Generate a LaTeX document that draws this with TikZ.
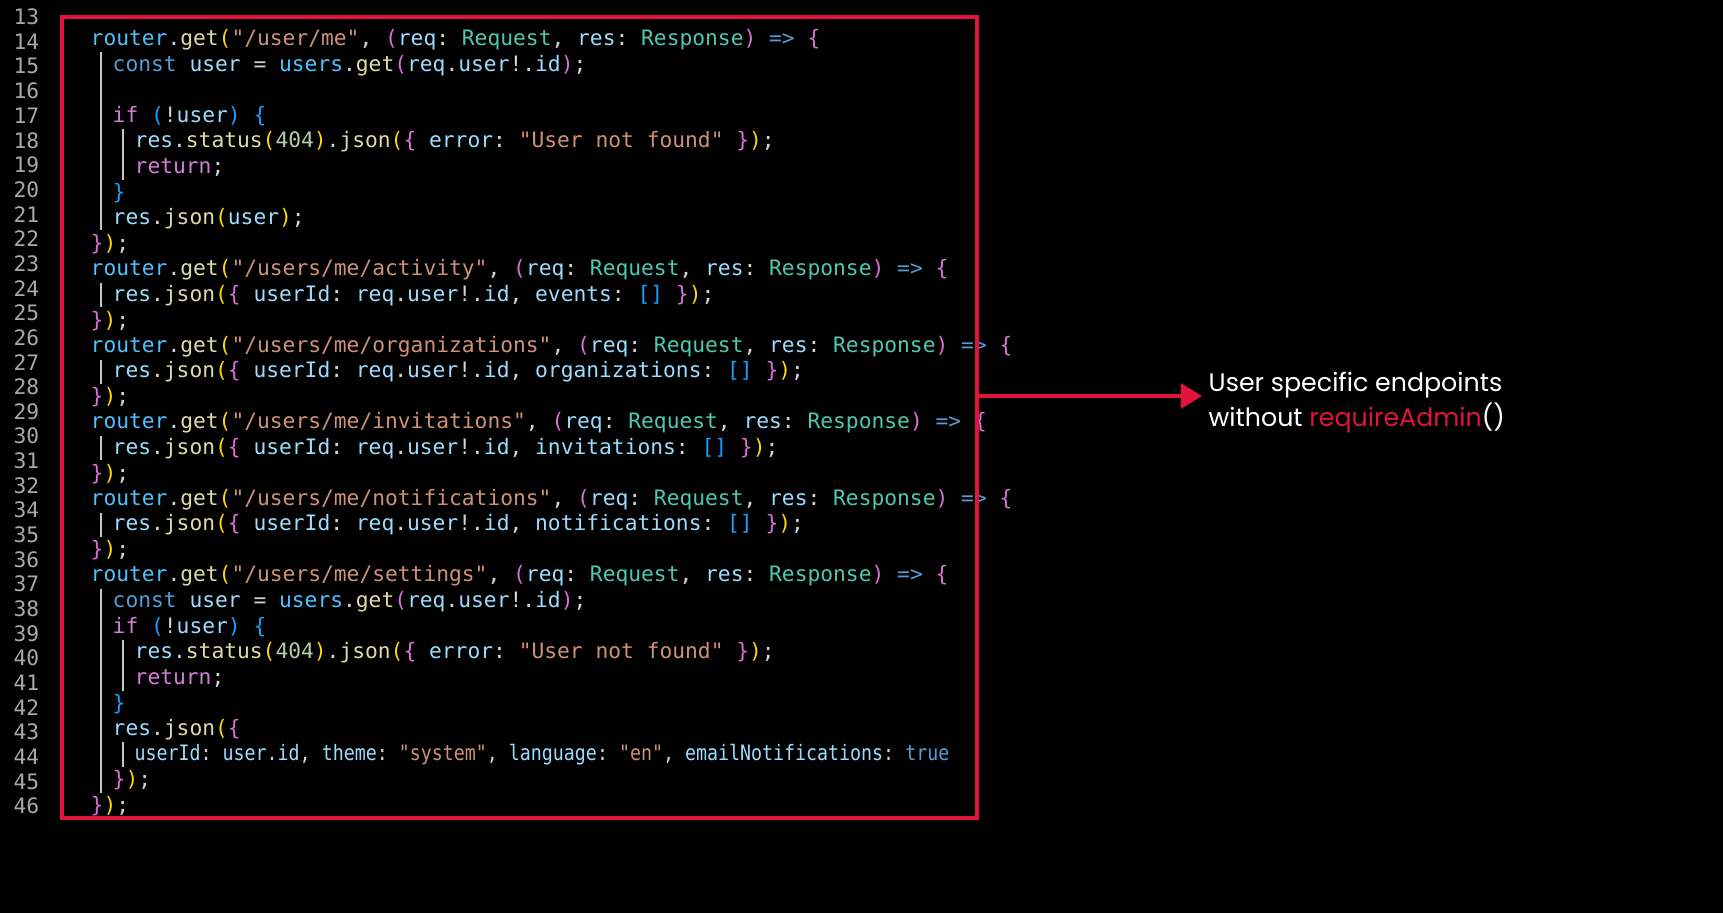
\documentclass[tikz,border=0pt]{standalone}
\usepackage{fontspec}
\setmonofont{DejaVu Sans Mono}
\newfontfamily\notefont{Poppins}
\usetikzlibrary{arrows.meta}

\definecolor{bgcol}{HTML}{000000}
\definecolor{plain}{HTML}{D4D4D4}
\definecolor{lnum}{HTML}{A8A8A8}
\definecolor{varc}{HTML}{9CDCFE}
\definecolor{objc}{HTML}{4FC1FF}
\definecolor{fnc}{HTML}{DCDCAA}
\definecolor{strc}{HTML}{CE9178}
\definecolor{typc}{HTML}{4EC9B0}
\definecolor{kwc}{HTML}{569CD6}
\definecolor{ctlc}{HTML}{D27ED6}
\definecolor{numc}{HTML}{B5CEA8}
\definecolor{brgold}{HTML}{FFD700}
\definecolor{brorch}{HTML}{DA70D6}
\definecolor{brblue}{HTML}{179FFF}
\definecolor{mark}{HTML}{E0143C}

\newcommand\cvar[1]{\textcolor{varc}{#1}}
\newcommand\cobj[1]{\textcolor{objc}{#1}}
\newcommand\cfn[1]{\textcolor{fnc}{#1}}
\newcommand\cstr[1]{\textcolor{strc}{#1}}
\newcommand\ctyp[1]{\textcolor{typc}{#1}}
\newcommand\ckw[1]{\textcolor{kwc}{#1}}
\newcommand\cctl[1]{\textcolor{ctlc}{#1}}
\newcommand\cnum[1]{\textcolor{numc}{#1}}
\newcommand\pa[1]{\textcolor{brgold}{#1}}
\newcommand\pb[1]{\textcolor{brorch}{#1}}
\newcommand\pc[1]{\textcolor{brblue}{#1}}
\newcommand\rline[1]{\cobj{router}.\cfn{get}\pa{(}\cstr{"#1"}, \pb{(}\cvar{req}: \ctyp{Request}, \cvar{res}: \ctyp{Response}\pb{)} \ckw{=>} \pb{\{}}
\newcommand\jline[1]{\cvar{res}.\cfn{json}\pa{(}\pb{\{} \cvar{userId}: \cvar{req}.\cvar{user}!.\cvar{id}, \cvar{#1}: \pc{[]} \pb{\}}\pa{)};}

\begin{document}
\begin{tikzpicture}[
    code/.style={anchor=west, inner sep=0pt, text=plain, font=\ttfamily\fontsize{6.05}{7}\selectfont},
    num/.style={anchor=east, inner sep=0pt, text=lnum, font=\ttfamily\fontsize{6.05}{7}\selectfont},
    guide/.style={draw=gray!45, line width=0.3pt},
    frame/.style={draw=mark, line width=1.2pt},
    note/.style={anchor=west, inner sep=0pt, text=white, align=left, font=\notefont\fontsize{7.2}{10}\selectfont}
  ]
    \fill[bgcol] (0,0) rectangle (17.23,-9.13);

    % line numbers
    \foreach \n [count=\i from 0] in {13,...,32,34,35,...,46}
        \node[num] at (0.40,{-0.17-0.2466*\i}) {\n};

    % indent guides
    \draw[guide] (1.01,-0.52) -- (1.01,-2.30);
    \draw[guide] (1.23,-1.29) -- (1.23,-1.80);
    \foreach \y in {-2.953,-3.719,-4.485,-5.251}
        \draw[guide] (1.01,\y+0.12) -- (1.01,\y-0.12);
    \draw[guide] (1.01,-5.89) -- (1.01,-7.93);
    \draw[guide] (1.23,-6.40) -- (1.23,-6.91);
    \draw[guide] (1.23,-7.42) -- (1.23,-7.67);

    % code rows
    \node[code] (r0)  at (0.90,-0.400) {\rline{/user/me}};
    \node[code] (r1)  at (1.12,-0.655) {\ckw{const} \cvar{user} = \cobj{users}.\cfn{get}\pb{(}\cvar{req}.\cvar{user}!.\cvar{id}\pb{)};};
    \node[code] (r3)  at (1.12,-1.166) {\cctl{if} \pc{(}!\cvar{user}\pc{)} \pc{\{}};
    \node[code] (r4)  at (1.34,-1.421) {\cvar{res}.\cfn{status}\pa{(}\cnum{404}\pa{)}.\cfn{json}\pa{(}\pb{\{} \cvar{error}: \cstr{"User not found"} \pb{\}}\pa{)};};
    \node[code] (r5)  at (1.34,-1.676) {\cctl{return};};
    \node[code] (r6)  at (1.12,-1.932) {\pc{\}}};
    \node[code] (r7)  at (1.12,-2.187) {\cvar{res}.\cfn{json}\pa{(}\cvar{user}\pa{)};};
    \node[code] (r8)  at (0.90,-2.442) {\pb{\}}\pa{)};};
    \node[code] (r9)  at (0.90,-2.698) {\rline{/users/me/activity}};
    \node[code] (r10) at (1.12,-2.953) {\jline{events}};
    \node[code] (r11) at (0.90,-3.208) {\pb{\}}\pa{)};};
    \node[code] (r12) at (0.90,-3.464) {\rline{/users/me/organizations}};
    \node[code] (r13) at (1.12,-3.719) {\jline{organizations}};
    \node[code] (r14) at (0.90,-3.974) {\pb{\}}\pa{)};};
    \node[code] (r15) at (0.90,-4.230) {\rline{/users/me/invitations}};
    \node[code] (r16) at (1.12,-4.485) {\jline{invitations}};
    \node[code] (r17) at (0.90,-4.740) {\pb{\}}\pa{)};};
    \node[code] (r18) at (0.90,-4.996) {\rline{/users/me/notifications}};
    \node[code] (r19) at (1.12,-5.251) {\jline{notifications}};
    \node[code] (r20) at (0.90,-5.506) {\pb{\}}\pa{)};};
    \node[code] (r21) at (0.90,-5.762) {\rline{/users/me/settings}};
    \node[code] (r22) at (1.12,-6.017) {\ckw{const} \cvar{user} = \cobj{users}.\cfn{get}\pb{(}\cvar{req}.\cvar{user}!.\cvar{id}\pb{)};};
    \node[code] (r23) at (1.12,-6.272) {\cctl{if} \pc{(}!\cvar{user}\pc{)} \pc{\{}};
    \node[code] (r24) at (1.34,-6.528) {\cvar{res}.\cfn{status}\pa{(}\cnum{404}\pa{)}.\cfn{json}\pa{(}\pb{\{} \cvar{error}: \cstr{"User not found"} \pb{\}}\pa{)};};
    \node[code] (r25) at (1.34,-6.783) {\cctl{return};};
    \node[code] (r26) at (1.12,-7.038) {\pc{\}}};
    \node[code] (r27) at (1.12,-7.294) {\cvar{res}.\cfn{json}\pa{(}\pb{\{}};
    \node[code, xscale=0.86, transform shape] (r28) at (1.34,-7.549) {\cvar{userId}: \cvar{user}.\cvar{id}, \cvar{theme}: \cstr{"system"}, \cvar{language}: \cstr{"en"}, \cvar{emailNotifications}: \ckw{true}};
    \node[code] (r29) at (1.12,-7.804) {\pb{\}}\pa{)};};
    \node[code] (r30) at (0.90,-8.060) {\pb{\}}\pa{)};};

    % highlight box and note
    \draw[frame] (0.62,-0.17) rectangle (9.77,-8.18);
    \coordinate (edge) at (9.77,-3.96);
    \node[note] (label) at (12.08,-4.03) {User specific endpoints\\without \textcolor{mark}{requireAdmin}()};
    \draw[frame, -{Triangle[length=6pt,width=7pt]}] (edge) -- (12.02,-3.96);
\end{tikzpicture}
\end{document}
